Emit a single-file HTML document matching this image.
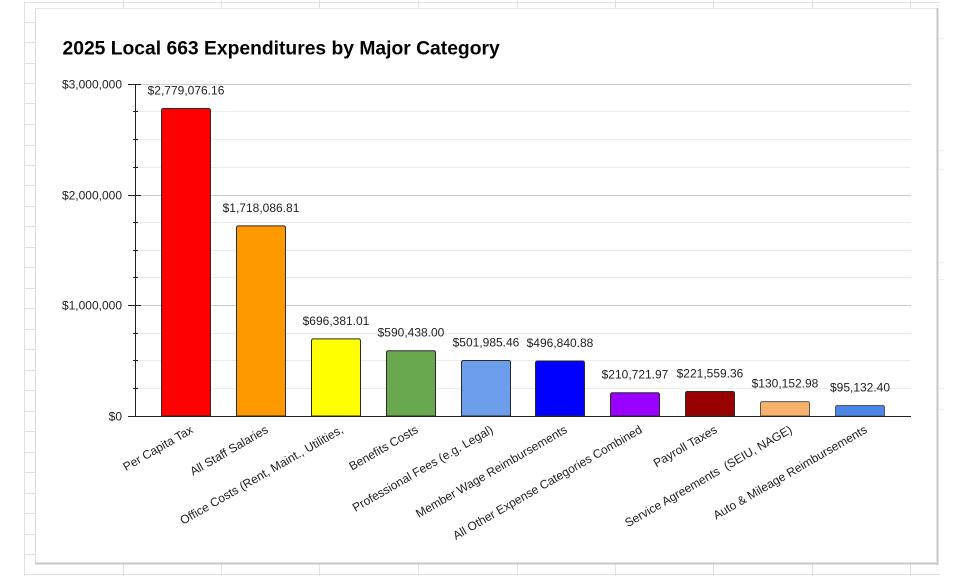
<!DOCTYPE html>
<html><head><meta charset="utf-8"><style>
html,body{margin:0;padding:0;background:#fff;}
svg{display:block;}
text{font-family:"Liberation Sans",Arial,sans-serif;fill:#222;}
</style></head><body>
<svg width="960" height="576" viewBox="0 0 960 576" xmlns="http://www.w3.org/2000/svg">
<!-- spreadsheet background grid -->
<g stroke="#e2e2e2" stroke-width="1" fill="none">
<line x1="24.5" y1="2" x2="24.5" y2="576"/>
<line x1="24" y1="2.5" x2="940" y2="2.5"/>
<line x1="24" y1="574.5" x2="940" y2="574.5"/>
<line x1="123.5" y1="0" x2="123.5" y2="8"/><line x1="221.5" y1="0" x2="221.5" y2="8"/><line x1="319.5" y1="0" x2="319.5" y2="8"/><line x1="418.5" y1="0" x2="418.5" y2="8"/><line x1="517.5" y1="0" x2="517.5" y2="8"/><line x1="615.5" y1="0" x2="615.5" y2="8"/><line x1="713.5" y1="0" x2="713.5" y2="8"/><line x1="812.5" y1="0" x2="812.5" y2="8"/><line x1="910.5" y1="0" x2="910.5" y2="8"/>
<line x1="123.5" y1="564" x2="123.5" y2="576"/><line x1="221.5" y1="564" x2="221.5" y2="576"/><line x1="319.5" y1="564" x2="319.5" y2="576"/><line x1="418.5" y1="564" x2="418.5" y2="576"/><line x1="517.5" y1="564" x2="517.5" y2="576"/><line x1="615.5" y1="564" x2="615.5" y2="576"/><line x1="713.5" y1="564" x2="713.5" y2="576"/><line x1="812.5" y1="564" x2="812.5" y2="576"/><line x1="910.5" y1="564" x2="910.5" y2="576"/>
<line x1="24" y1="22.5" x2="35" y2="22.5"/><line x1="24" y1="42.5" x2="35" y2="42.5"/><line x1="24" y1="63.5" x2="35" y2="63.5"/><line x1="24" y1="83.5" x2="35" y2="83.5"/><line x1="24" y1="103.5" x2="35" y2="103.5"/><line x1="24" y1="124.5" x2="35" y2="124.5"/><line x1="24" y1="145.5" x2="35" y2="145.5"/><line x1="24" y1="165.5" x2="35" y2="165.5"/><line x1="24" y1="185.5" x2="35" y2="185.5"/><line x1="24" y1="206.5" x2="35" y2="206.5"/><line x1="24" y1="226.5" x2="35" y2="226.5"/><line x1="24" y1="247.5" x2="35" y2="247.5"/><line x1="24" y1="267.5" x2="35" y2="267.5"/><line x1="24" y1="288.5" x2="35" y2="288.5"/><line x1="24" y1="308.5" x2="35" y2="308.5"/><line x1="24" y1="329.5" x2="35" y2="329.5"/><line x1="24" y1="349.5" x2="35" y2="349.5"/><line x1="24" y1="370.5" x2="35" y2="370.5"/><line x1="24" y1="390.5" x2="35" y2="390.5"/><line x1="24" y1="411.5" x2="35" y2="411.5"/><line x1="24" y1="431.5" x2="35" y2="431.5"/><line x1="24" y1="452.5" x2="35" y2="452.5"/><line x1="24" y1="472.5" x2="35" y2="472.5"/><line x1="24" y1="493.5" x2="35" y2="493.5"/><line x1="24" y1="513.5" x2="35" y2="513.5"/><line x1="24" y1="534.5" x2="35" y2="534.5"/><line x1="24" y1="554.5" x2="35" y2="554.5"/>
</g>
<g stroke="#f0f0f0" stroke-width="1">
<line x1="939" y1="38.5" x2="944" y2="38.5"/><line x1="939" y1="150.5" x2="944" y2="150.5"/><line x1="939" y1="169.5" x2="944" y2="169.5"/><line x1="939" y1="262.5" x2="944" y2="262.5"/><line x1="939" y1="279.5" x2="944" y2="279.5"/><line x1="939" y1="388.5" x2="944" y2="388.5"/><line x1="939" y1="409.5" x2="944" y2="409.5"/>
</g>
<!-- chart box -->
<rect x="35" y="8" width="903" height="556" fill="#fff"/>
<line x1="35.5" y1="8" x2="35.5" y2="564" stroke="#dcdcdc"/>
<line x1="35" y1="8.5" x2="938" y2="8.5" stroke="#e6e6e6"/>
<rect x="936.5" y="8" width="2" height="557" fill="#c8c8c8"/>
<rect x="35" y="562.5" width="903" height="2" fill="#c8c8c8"/>

<text x="62.5" y="54.5" font-size="19.3" font-weight="bold" style="fill:#000">2025 Local 663 Expenditures by Major Category</text>

<!-- gridlines -->
<g stroke="#ececec" stroke-width="1">
<line x1="135" y1="388.5" x2="911" y2="388.5"/><line x1="135" y1="360.5" x2="911" y2="360.5"/><line x1="135" y1="333.5" x2="911" y2="333.5"/>
<line x1="135" y1="277.5" x2="911" y2="277.5"/><line x1="135" y1="250.5" x2="911" y2="250.5"/><line x1="135" y1="222.5" x2="911" y2="222.5"/>
<line x1="135" y1="167.5" x2="911" y2="167.5"/><line x1="135" y1="139.5" x2="911" y2="139.5"/><line x1="135" y1="111.5" x2="911" y2="111.5"/>
</g>
<g stroke="#cccccc" stroke-width="1">
<line x1="135" y1="84.5" x2="911" y2="84.5"/><line x1="135" y1="195.5" x2="911" y2="195.5"/><line x1="135" y1="305.5" x2="911" y2="305.5"/>
</g>

<!-- y axis labels -->
<g font-size="12" text-anchor="end">
<text x="122" y="88.5">$3,000,000</text>
<text x="122" y="199.5">$2,000,000</text>
<text x="122" y="309.5">$1,000,000</text>
<text x="122" y="420.5">$0</text>
</g>

<!-- bars -->
<g stroke="#2a2a2a" stroke-width="1">
<path d="M161.5,416 V110.5 Q161.5,108.5 163.5,108.5 H208.5 Q210.5,108.5 210.5,110.5 V416 Z" fill="#ff0000"/>
<path d="M236.5,416 V227.9 Q236.5,225.9 238.5,225.9 H283.5 Q285.5,225.9 285.5,227.9 V416 Z" fill="#ff9900"/>
<path d="M311.5,416 V340.9 Q311.5,338.9 313.5,338.9 H358.5 Q360.5,338.9 360.5,340.9 V416 Z" fill="#ffff00"/>
<path d="M386.5,416 V352.7 Q386.5,350.7 388.5,350.7 H433.5 Q435.5,350.7 435.5,352.7 V416 Z" fill="#6aa84f"/>
<path d="M461.5,416 V362.5 Q461.5,360.5 463.5,360.5 H508.5 Q510.5,360.5 510.5,362.5 V416 Z" fill="#6d9eeb"/>
<path d="M535.5,416 V363 Q535.5,361 537.5,361 H582.5 Q584.5,361 584.5,363 V416 Z" fill="#0000ff"/>
<path d="M610.5,416 V394.7 Q610.5,392.7 612.5,392.7 H657.5 Q659.5,392.7 659.5,394.7 V416 Z" fill="#9900ff"/>
<path d="M685.5,416 V393.5 Q685.5,391.5 687.5,391.5 H732.5 Q734.5,391.5 734.5,393.5 V416 Z" fill="#990000"/>
<path d="M760.5,416 V403.6 Q760.5,401.6 762.5,401.6 H807.5 Q809.5,401.6 809.5,403.6 V416 Z" fill="#f6b26b" stroke="#555"/>
<path d="M835.5,416 V407.5 Q835.5,405.5 837.5,405.5 H882.5 Q884.5,405.5 884.5,407.5 V416 Z" fill="#4a86e8" stroke="#555"/>
</g>

<!-- axes -->
<line x1="135.5" y1="84" x2="135.5" y2="416" stroke="#222" stroke-width="1"/>
<g stroke="#222" stroke-width="1">
<line x1="128" y1="84.5" x2="141" y2="84.5"/><line x1="128" y1="195.5" x2="141" y2="195.5"/><line x1="128" y1="305.5" x2="141" y2="305.5"/>
<line x1="133" y1="111.5" x2="138" y2="111.5"/><line x1="133" y1="139.5" x2="138" y2="139.5"/><line x1="133" y1="167.5" x2="138" y2="167.5"/>
<line x1="133" y1="222.5" x2="138" y2="222.5"/><line x1="133" y1="250.5" x2="138" y2="250.5"/><line x1="133" y1="277.5" x2="138" y2="277.5"/>
<line x1="133" y1="333.5" x2="138" y2="333.5"/><line x1="133" y1="360.5" x2="138" y2="360.5"/><line x1="133" y1="388.5" x2="138" y2="388.5"/>
</g>
<line x1="128" y1="416.5" x2="911" y2="416.5" stroke="#222" stroke-width="1"/>

<!-- value labels -->
<g font-size="12" text-anchor="middle">
<text x="186" y="94.5">$2,779,076.16</text>
<text x="261" y="212">$1,718,086.81</text>
<text x="336" y="325">$696,381.01</text>
<text x="411" y="336.7">$590,438.00</text>
<text x="486" y="346.5">$501,985.46</text>
<text x="560" y="347">$496,840.88</text>
<text x="635" y="378.7">$210,721.97</text>
<text x="710" y="377.5">$221,559.36</text>
<text x="785" y="387.6">$130,152.98</text>
<text x="860" y="391.5">$95,132.40</text>
</g>

<!-- category labels -->
<g font-size="12" text-anchor="end">
<text transform="translate(194,432) rotate(-30)">Per Capita Tax</text>
<text transform="translate(269,432) rotate(-30)">All Staff Salaries</text>
<text transform="translate(344,432) rotate(-30)">Office Costs (Rent, Maint., Utilities,</text>
<text transform="translate(419,432) rotate(-30)">Benefits Costs</text>
<text transform="translate(494,432) rotate(-30)">Professional Fees (e.g. Legal)</text>
<text transform="translate(568,432) rotate(-30)">Member Wage Reimbursements</text>
<text transform="translate(643,432) rotate(-30)">All Other Expense Categories Combined</text>
<text transform="translate(718,432) rotate(-30)">Payroll Taxes</text>
<text transform="translate(793,432) rotate(-30)">Service Agreements&#160; (SEIU, NAGE)</text>
<text transform="translate(868,432) rotate(-30)">Auto &amp; Mileage Reimbursements</text>
</g>
</svg>
</body></html>
